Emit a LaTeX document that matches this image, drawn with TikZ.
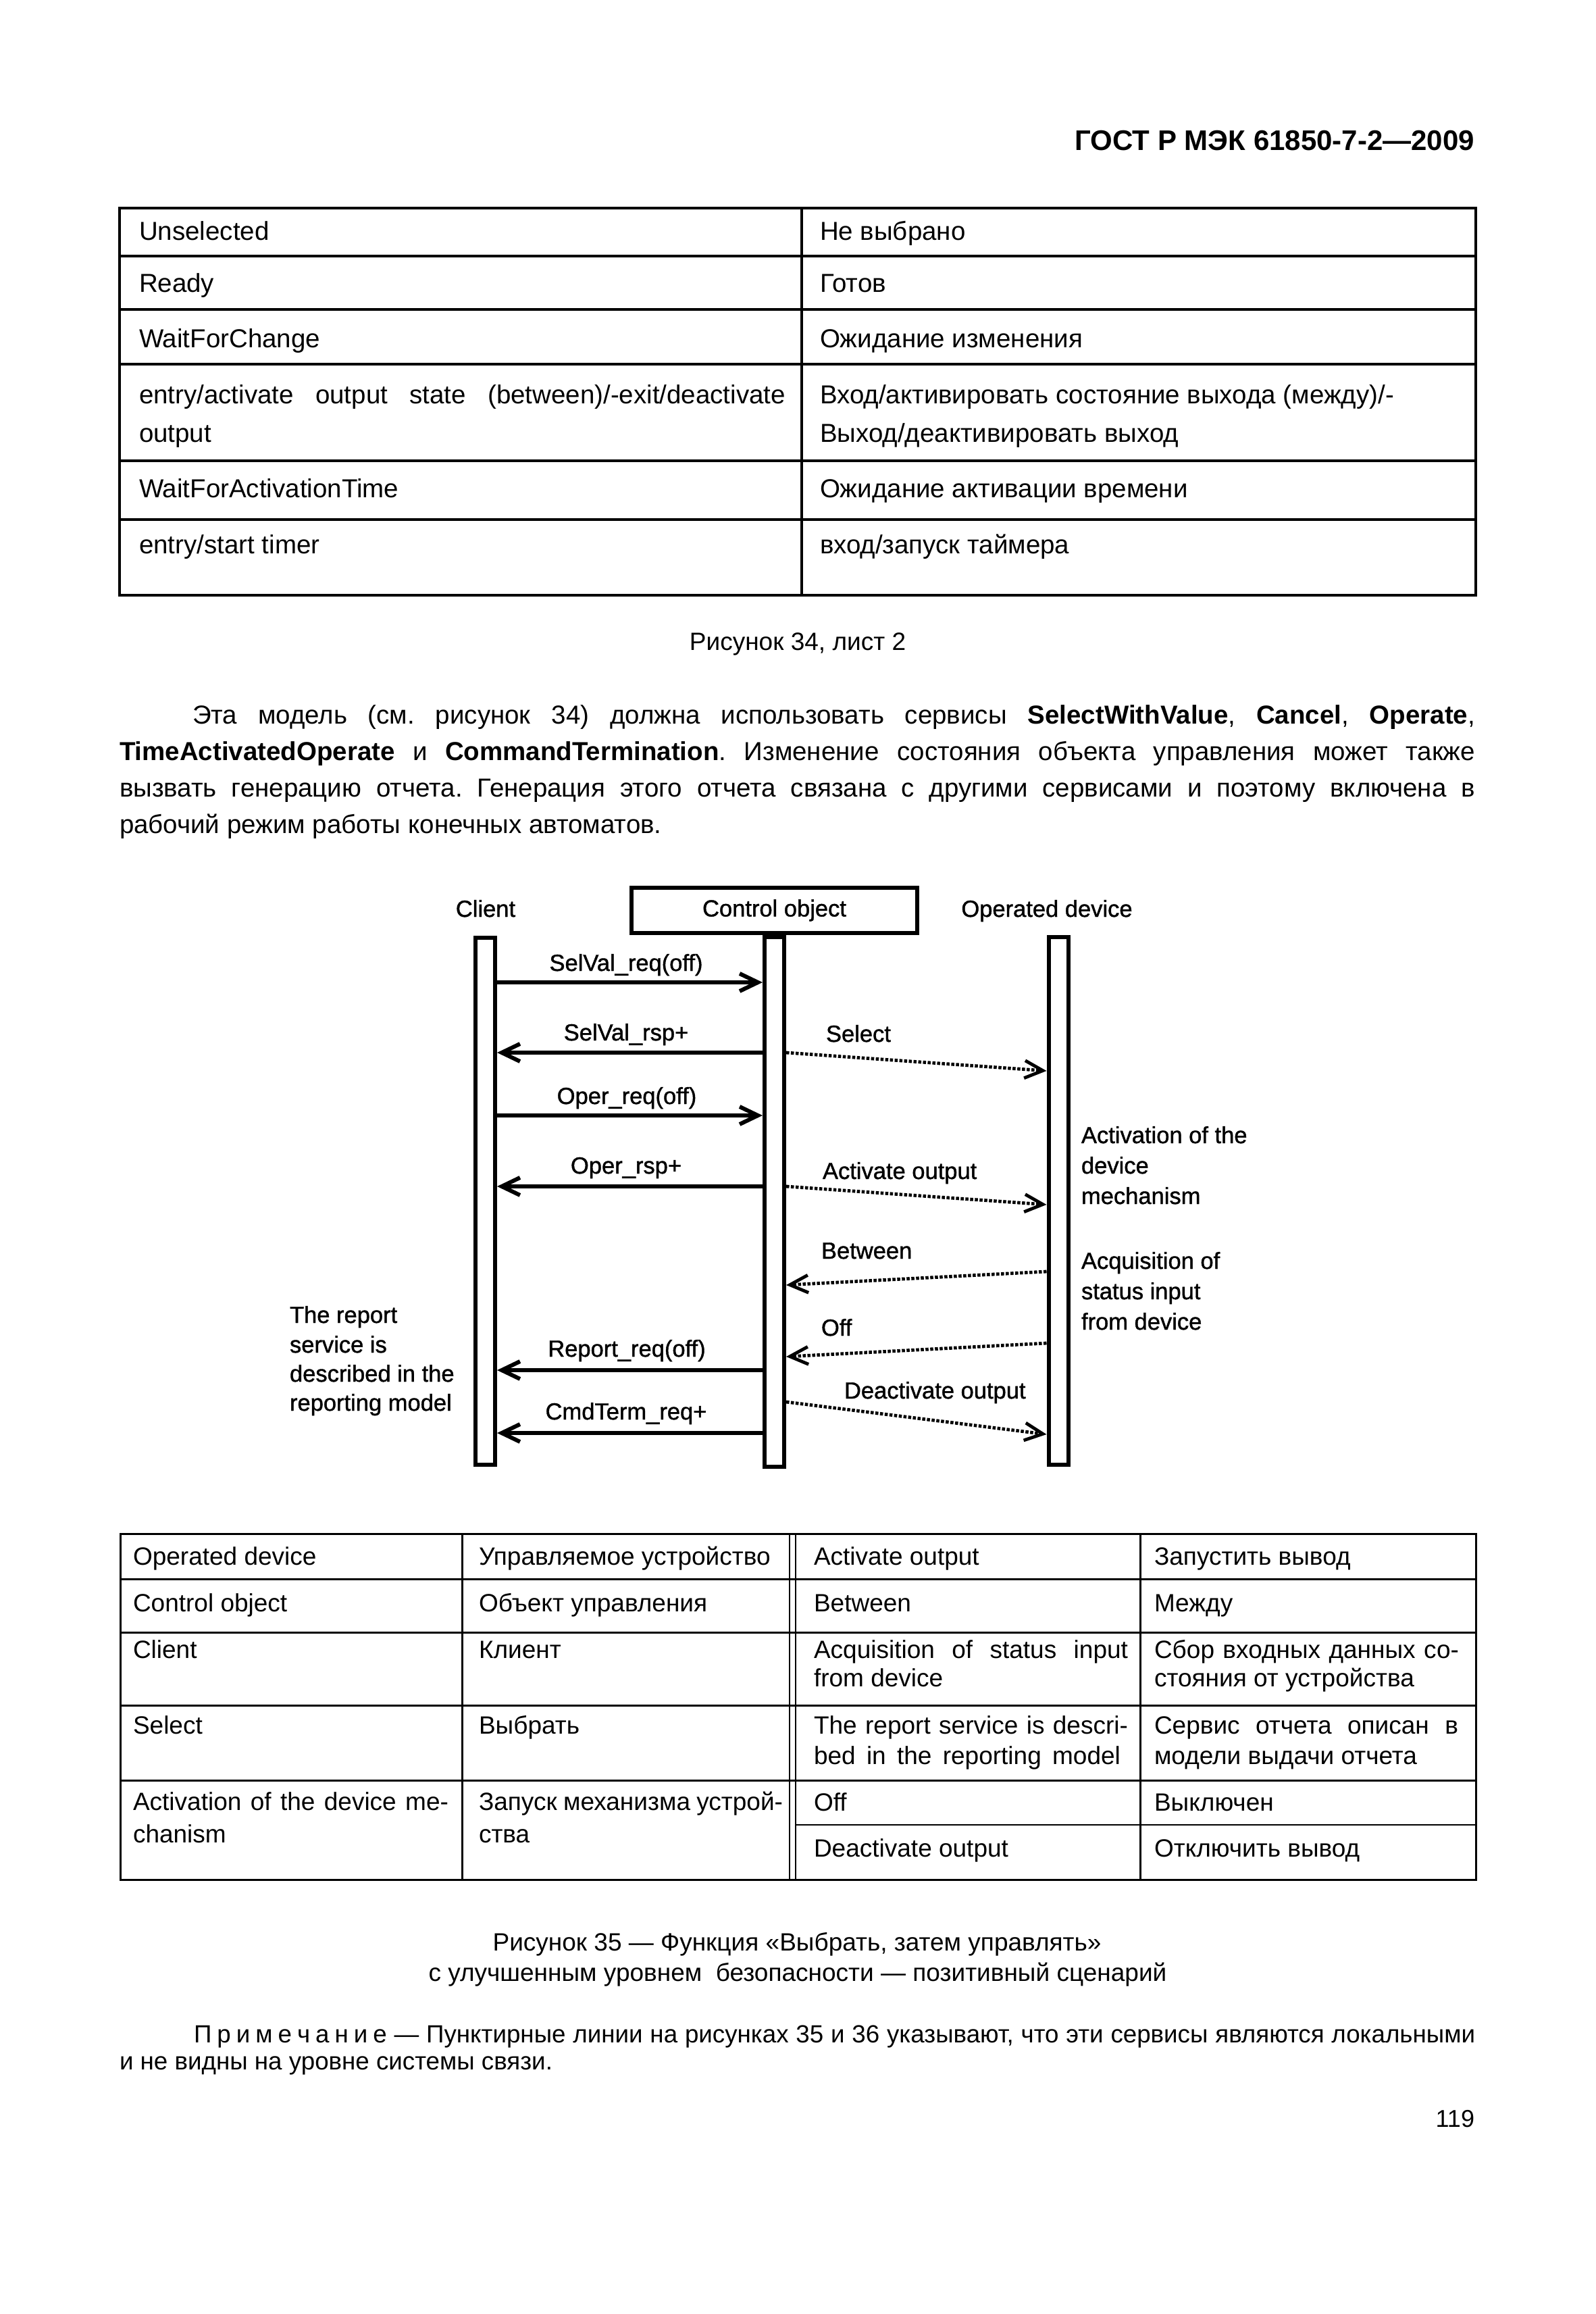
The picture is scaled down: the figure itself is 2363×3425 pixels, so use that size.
\documentclass[tikz,border=0pt]{standalone}
\usepackage{fontspec}
\setmainfont{Liberation Sans}
\newfontfamily\diafont{Liberation Sans}[FakeBold=1.2]
\usetikzlibrary{arrows.meta}
\frenchspacing
\newcommand\fhead{\fontsize{11.95pt}{14pt}\selectfont\bfseries}
\newcommand\ftab{\fontsize{10.95pt}{13pt}\selectfont}
\newcommand\fpar{\fontsize{10.95pt}{15.4pt}\selectfont}
\newcommand\fcap{\fontsize{10.53pt}{12.8pt}\selectfont}
\newcommand\fdia{\diafont\fontsize{9.82pt}{12.5pt}\selectfont}
\newcommand\fbt{\fontsize{10.53pt}{12.8pt}\selectfont}
\newcommand\fnote{\fontsize{10.45pt}{11.4pt}\selectfont}
\newcommand\fnum{\fontsize{10.24pt}{12pt}\selectfont}
\newcommand\jl[2]{\makebox[#1][s]{#2}}
\begin{document}
\begin{tikzpicture}[x=0.1mm,y=-0.1mm,
  tl/.style={inner sep=0pt,outer sep=0pt,anchor=base west},
  tc/.style={inner sep=0pt,outer sep=0pt,anchor=base},
  tr/.style={inner sep=0pt,outer sep=0pt,anchor=base east},
  tline/.style={line width=0.35mm},
  bline/.style={line width=0.3mm},
  dline/.style={line width=0.2mm},
  bar/.style={draw,line width=0.6mm,minimum width=2.9mm,inner sep=0pt,anchor=north},
  cobox/.style={draw,line width=0.6mm,minimum width=42.3mm,minimum height=6.7mm,inner sep=0pt},
  msg/.style={line width=0.6mm,-{Straight Barb[length=2.7mm,width=2.6mm]}},
  loc/.style={line width=0.48mm,dash pattern=on 0.45mm off 0.25mm,-{Straight Barb[length=2.7mm,width=2.6mm]}}
]
\fill[white] (0,0) rectangle (2363,3425);
\useasboundingbox (0,0) rectangle (2363,3425);

% header
\node[tr] (hdr) at (2183,222) {\fhead ГОСТ Р МЭК 61850-7-2—2009};

% top table
\draw[tline] (177,308) rectangle (2185,881);
\draw[tline] (1187,308) -- (1187,881);
\foreach \yy in {379,458,539,682,769} \draw[tline] (177,\yy) -- (2185,\yy);
\node[tl] (t1a) at (206,355) {\ftab Unselected};
\node[tl] (t2a) at (206,432) {\ftab Ready};
\node[tl] (t3a) at (206,514) {\ftab WaitForChange};
\node[tl] (t4a) at (206,597) {\ftab\jl{95.7mm}{entry/activate output state (between)/-exit/deactivate}};
\node[tl] (t4b) at (206,654) {\ftab output};
\node[tl] (t5a) at (206,736) {\ftab WaitForActivationTime};
\node[tl] (t6a) at (206,819) {\ftab entry/start timer};
\node[tl] (r1a) at (1214,355) {\ftab Не выбрано};
\node[tl] (r2a) at (1214,432) {\ftab Готов};
\node[tl] (r3a) at (1214,514) {\ftab Ожидание изменения};
\node[tl] (r4a) at (1214,597) {\ftab Вход/активировать состояние выхода (между)/-};
\node[tl] (r4b) at (1214,654) {\ftab Выход/деактивировать выход};
\node[tl] (r5a) at (1214,736) {\ftab Ожидание активации времени};
\node[tl] (r6a) at (1214,819) {\ftab вход/запуск таймера};

\node[tc] (cap34) at (1181,962) {\fcap Рисунок 34, лист 2};

% paragraph
\node[tl] (p1) at (285,1071) {\fpar\jl{189.9mm}{Эта модель (см. рисунок 34) должна использовать сервисы \textbf{SelectWithValue}, \textbf{Cancel}, \textbf{Operate},}};
\node[tl] (p2) at (177,1125) {\fpar\jl{200.7mm}{\textbf{TimeActivatedOperate} и \textbf{CommandTermination}. Изменение состояния объекта управления может также}};
\node[tl] (p3) at (177,1179) {\fpar\jl{200.7mm}{вызвать генерацию отчета. Генерация этого отчета связана с другими сервисами и поэтому включена в}};
\node[tl] (p4) at (177,1233) {\fpar рабочий режим работы конечных автоматов.};

% sequence diagram
\node[tc] (cl) at (719,1357) {\fdia Client};
\node[cobox] (co) at (1146.5,1347.5) {\fdia Control object};
\node[tc] (od) at (1550,1357) {\fdia Operated device};
\node[bar,minimum height=78mm] (clbar) at (718.5,1385) {};
\node[bar,minimum height=78.4mm] (cobar) at (co.south) {};
\node[bar,minimum height=78.1mm] (odbar) at (1567,1384) {};

\draw[msg] (clbar.east |- 0,1454) -- (cobar.west |- 0,1454);
\draw[msg] (cobar.west |- 0,1558) -- (clbar.east |- 0,1558);
\draw[msg] (clbar.east |- 0,1651) -- (cobar.west |- 0,1651);
\draw[msg] (cobar.west |- 0,1756) -- (clbar.east |- 0,1756);
\draw[msg] (cobar.west |- 0,2028) -- (clbar.east |- 0,2028);
\draw[msg] (cobar.west |- 0,2121) -- (clbar.east |- 0,2121);

\draw[loc] (cobar.east |- 0,1558) -- (odbar.west |- 0,1585);
\draw[loc] (cobar.east |- 0,1756) -- (odbar.west |- 0,1783);
\draw[loc] (odbar.west |- 0,1882) -- (cobar.east |- 0,1902);
\draw[loc] (odbar.west |- 0,1988) -- (cobar.east |- 0,2008);
\draw[loc] (cobar.east |- 0,2075) -- (odbar.west |- 0,2123);

\node[tc] (m1) at (927,1437) {\fdia SelVal\_req(off)};
\node[tc] (m2) at (927,1540) {\fdia SelVal\_rsp+};
\node[tc] (m3) at (928,1634) {\fdia Oper\_req(off)};
\node[tc] (m4) at (927,1737) {\fdia Oper\_rsp+};
\node[tc] (m5) at (928,2008) {\fdia Report\_req(off)};
\node[tc] (m6) at (927,2101) {\fdia CmdTerm\_req+};

\node[tl] (l1) at (1223,1542) {\fdia Select};
\node[tl] (l2) at (1218,1745) {\fdia Activate output};
\node[tl] (l3) at (1216,1863) {\fdia Between};
\node[tl] (l4) at (1216,1977) {\fdia Off};
\node[tl] (l5) at (1250,2070) {\fdia Deactivate output};

\node[tl] (a1) at (1601,1692) {\fdia Activation of the};
\node[tl] (a2) at (1601,1737) {\fdia device};
\node[tl] (a3) at (1601,1782) {\fdia mechanism};
\node[tl] (q1) at (1601,1878) {\fdia Acquisition of};
\node[tl] (q2) at (1601,1923) {\fdia status input};
\node[tl] (q3) at (1601,1968) {\fdia from device};

\node[tl] (s1) at (429,1958) {\fdia The report};
\node[tl] (s2) at (429,2002) {\fdia service is};
\node[tl] (s3) at (429,2045) {\fdia described in the};
\node[tl] (s4) at (429,2088) {\fdia reporting model};

% bottom table
\draw[bline] (178,2270) rectangle (2185,2782);
\foreach \yy in {2337,2416,2524,2635} \draw[bline] (178,\yy) -- (2185,\yy);
\draw[dline] (1178,2701) -- (2185,2701);
\draw[bline] (684,2270) -- (684,2782);
\draw[bline] (1688,2270) -- (1688,2782);
\draw[dline] (1169,2270) -- (1169,2782);
\draw[dline] (1178,2270) -- (1178,2782);

\node[tl] (b11) at (197,2316) {\fbt Operated device};
\node[tl] (b12) at (709,2316) {\fbt Управляемое устройство};
\node[tl] (b13) at (1205,2316) {\fbt Activate output};
\node[tl] (b14) at (1709,2316) {\fbt Запустить вывод};
\node[tl] (b21) at (197,2385) {\fbt Control object};
\node[tl] (b22) at (709,2385) {\fbt Объект управления};
\node[tl] (b23) at (1205,2385) {\fbt Between};
\node[tl] (b24) at (1709,2385) {\fbt Между};
\node[tl] (b31) at (197,2454) {\fbt Client};
\node[tl] (b32) at (709,2454) {\fbt Клиент};
\node[tl] (b33) at (1205,2454) {\fbt\jl{46.5mm}{Acquisition of status input}};
\node[tl] (b33b) at (1205,2496) {\fbt from device};
\node[tl] (b34) at (1709,2454) {\fbt\jl{45.1mm}{Сбор входных данных со-}};
\node[tl] (b34b) at (1709,2496) {\fbt стояния от устройства};
\node[tl] (b41) at (197,2566) {\fbt Select};
\node[tl] (b42) at (709,2566) {\fbt Выбрать};
\node[tl] (b43) at (1205,2566) {\fbt\jl{46.5mm}{The report service is descri-}};
\node[tl] (b43b) at (1205,2611) {\fbt\jl{45.4mm}{bed in the reporting model}};
\node[tl] (b44) at (1709,2566) {\fbt\jl{45.0mm}{Сервис отчета описан в}};
\node[tl] (b44b) at (1709,2611) {\fbt модели выдачи отчета};
\node[tl] (b51) at (197,2679) {\fbt\jl{46.7mm}{Activation of the device me-}};
\node[tl] (b51b) at (197,2727) {\fbt chanism};
\node[tl] (b52) at (709,2679) {\fbt\jl{45.0mm}{Запуск механизма устрой-}};
\node[tl] (b52b) at (709,2727) {\fbt ства};
\node[tl] (b53) at (1205,2680) {\fbt Off};
\node[tl] (b54) at (1709,2680) {\fbt Выключен};
\node[tl] (b63) at (1205,2748) {\fbt Deactivate output};
\node[tl] (b64) at (1709,2748) {\fbt Отключить вывод};

% caption 35
\node[tc] (c35a) at (1180,2887) {\fcap Рисунок 35 — Функция «Выбрать, затем управлять»};
\node[tc] (c35b) at (1181,2932) {\fcap с улучшенным уровнем\ \ безопасности — позитивный сценарий};

% note
\node[tl] (n1) at (287,3023) {\fnote\jl{189.7mm}{П\kern0.8mm р\kern0.8mm и\kern0.8mm м\kern0.8mm е\kern0.8mm ч\kern0.8mm а\kern0.8mm н\kern0.8mm и\kern0.8mm е — Пунктирные линии на рисунках 35 и 36 указывают, что эти сервисы являются локальными}};
\node[tl] (n2) at (177,3063) {\fnote и не видны на уровне системы связи.};

\node[tr] (pg) at (2183,3148) {\fnum 119};
\end{tikzpicture}
\end{document}
